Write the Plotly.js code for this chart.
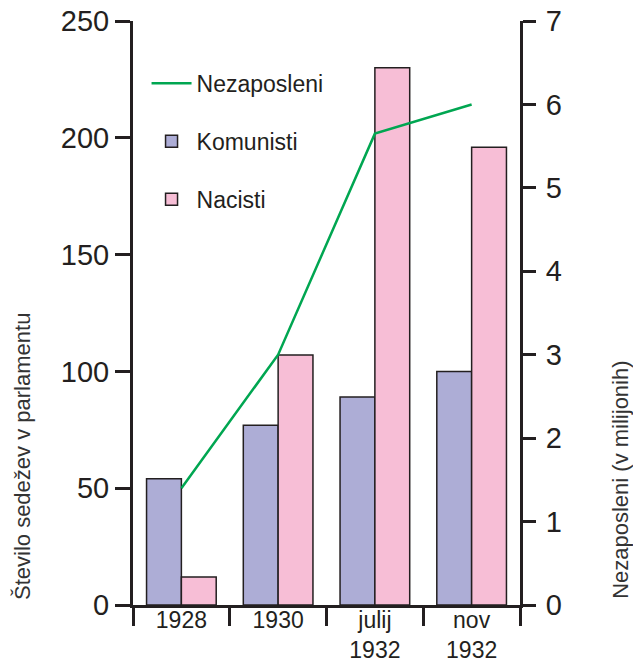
<!DOCTYPE html>
<html>
<head>
<meta charset="utf-8">
<script src="https://cdn.plot.ly/plotly-3.0.1.min.js"></script>
<style>html,body{margin:0;padding:0;background:#fff;}#chart{width:633px;height:666px;}</style>
</head>
<body>
<div id="chart"></div>
<script>
const categories = ['1928', '1930', 'julij<br>1932', 'nov<br>1932'];
const komunisti = [54, 77, 89, 100];
const nacisti = [12, 107, 230, 196];
const nezaposleni = [1.4, 3.0, 5.65, 6.0];
const leftTicks = [0, 50, 100, 150, 200, 250];
const rightTicks = [0, 1, 2, 3, 4, 5, 6, 7];

const ink = '#231f20';
const fontFam = '"Liberation Sans", Arial, Helvetica, sans-serif';

const data = [
  {
    type: 'scatter', mode: 'lines', name: 'Nezaposleni',
    x: categories, y: nezaposleni, yaxis: 'y2',
    line: {color: '#00a651', width: 2.5},
    legendgroup: 'a'
  },
  {
    type: 'bar', name: 'Komunisti', x: categories, y: komunisti,
    marker: {color: '#adadd6', line: {color: ink, width: 1.5}},
    legendgroup: 'b'
  },
  {
    type: 'bar', name: 'Nacisti', x: categories, y: nacisti,
    marker: {color: '#f7bed6', line: {color: ink, width: 1.5}},
    legendgroup: 'c'
  }
];

const layout = {
  width: 633, height: 666,
  margin: {l: 133, r: 113, t: 21, b: 61},
  paper_bgcolor: '#fff', plot_bgcolor: '#fff',
  font: {family: fontFam, color: ink, size: 26},
  barmode: 'group', bargap: 0.28, bargroupgap: 0,
  showlegend: true,
  legend: {
    x: 0.035, y: 0.93, xanchor: 'left', yanchor: 'top',
    bgcolor: 'rgba(0,0,0,0)', font: {size: 23, color: ink},
    traceorder: 'grouped', tracegroupgap: 25, itemwidth: 40
  },
  xaxis: {
    type: 'category', range: [-0.5, 3.5],
    showline: true, linecolor: ink, linewidth: 3,
    ticks: 'outside', tickson: 'boundaries', ticklen: 18, tickwidth: 3, tickcolor: ink,
    ticklabelstandoff: -8,
    tickfont: {size: 23, color: ink},
    showgrid: false, zeroline: false, fixedrange: true
  },
  yaxis: {
    range: [0, 250], tickvals: leftTicks,
    showline: true, linecolor: ink, linewidth: 3,
    ticks: 'outside', ticklen: 15, tickwidth: 3, tickcolor: ink,
    tickfont: {size: 29, color: ink},
    showgrid: false, zeroline: false
  },
  yaxis2: {
    range: [0, 7], tickvals: rightTicks, overlaying: 'y', side: 'right',
    showline: true, linecolor: ink, linewidth: 3,
    ticks: 'outside', ticklen: 13, tickwidth: 3, tickcolor: ink,
    tickfont: {size: 29, color: ink},
    ticklabelstandoff: 4,
    showgrid: false, zeroline: false
  },
  annotations: [
    {
      text: 'Število sedežev v parlamentu', textangle: -90,
      xref: 'paper', yref: 'paper', x: -0.287, y: 0.255,
      xanchor: 'center', yanchor: 'middle', showarrow: false,
      font: {size: 22, color: '#333'}
    },
    {
      text: 'Nezaposleni (v milijonih)', textangle: -90,
      xref: 'paper', yref: 'paper', x: 1.258, y: 0.214,
      xanchor: 'center', yanchor: 'middle', showarrow: false,
      font: {size: 22, color: '#333'}
    }
  ]
};

Plotly.newPlot('chart', data, layout, {displayModeBar: false, staticPlot: true});
</script>
</body>
</html>
